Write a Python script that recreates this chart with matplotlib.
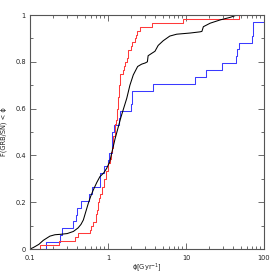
import numpy as np
import matplotlib
matplotlib.use("Agg")
import matplotlib.pyplot as plt
from matplotlib.ticker import LogLocator, NullFormatter, MultipleLocator

# Red sample (empirical CDF, 60 values, Gyr^-1)
red_samples = [0.134, 0.238, 0.374, 0.412, 0.58, 0.60, 0.64, 0.70, 0.712, 0.722,
               0.745, 0.755, 0.778, 0.789, 0.826, 0.84, 0.889, 0.90, 0.942, 0.95,
               0.99, 1.0, 1.06, 1.08, 1.10, 1.14, 1.15, 1.16, 1.17, 1.22,
               1.23, 1.24, 1.25, 1.30, 1.31, 1.32, 1.33, 1.34, 1.355, 1.38,
               1.39, 1.40, 1.41, 1.42, 1.43, 1.58, 1.62, 1.65, 1.75, 1.79,
               1.82, 1.95, 2.01, 2.22, 2.30, 2.33, 2.57, 3.70, 9.07, 47.8]

# Blue sample (empirical CDF, 34 values)
blue_samples = [0.160, 0.239, 0.257, 0.361, 0.39, 0.40, 0.457, 0.579, 0.624, 0.78,
                0.79, 0.902, 0.986, 1.045, 1.11, 1.12, 1.13, 1.205, 1.40, 1.43,
                2.0, 2.01, 2.02, 3.81, 13.0, 17.9, 29.2, 43.4, 44.6, 48.0,
                71.0, 71.5, 72.0, 150.0]

# Black model curve
black_x = [0.1, 0.11, 0.13, 0.148, 0.18, 0.209, 0.25, 0.30, 0.36, 0.413,
           0.45, 0.483, 0.52, 0.559, 0.60, 0.647, 0.72, 0.787, 0.88, 0.963,
           1.05, 1.23, 1.47, 1.74, 1.91, 2.11, 2.40, 2.7, 3.0, 3.2,
           3.27, 3.63, 4.0, 4.4, 5.1, 6.2, 7.6, 11.3, 15.1, 16.0,
           16.7, 20.4, 27.4, 36.9, 45.0]
black_y = [0.0, 0.006, 0.02, 0.037, 0.055, 0.061, 0.063, 0.066, 0.075, 0.09,
           0.105, 0.124, 0.16, 0.195, 0.225, 0.252, 0.285, 0.309, 0.325, 0.345,
           0.372, 0.47, 0.565, 0.644, 0.70, 0.744, 0.78, 0.79, 0.795, 0.80,
           0.826, 0.836, 0.845, 0.87, 0.89, 0.91, 0.918, 0.923, 0.928, 0.93,
           0.95, 0.965, 0.979, 0.99, 1.0]

x_ticks = [0.1, 1, 10, 100]
x_labels = ["0.1", "1", "10", "100"]
y_ticks = [0, 0.2, 0.4, 0.6, 0.8, 1.0]
y_labels = ["0", "0.2", "0.4", "0.6", "0.8", "1"]


def ecdf(samples, xmin=0.1):
    s = np.sort(np.asarray(samples, dtype=float))
    n = len(s)
    xs = np.concatenate([[xmin], s])
    ys = np.concatenate([[0.0], np.arange(1, n + 1) / n])
    return xs, ys


fig = plt.figure(figsize=(2.79, 2.79), dpi=100)
ax = fig.add_axes([0.1075, 0.1075, 0.8387, 0.8387])

rx, ry = ecdf(red_samples)
bx, by = ecdf(blue_samples)
ax.step(bx, by, where="post", color="#3a3aff", lw=0.75)
ax.step(rx, ry, where="post", color="#ff3a3a", lw=0.75)
ax.plot(black_x, black_y, color="black", lw=0.75)

ax.set_xscale("log")
ax.set_xlim(0.1, 100)
ax.set_ylim(0, 1)
ax.set_xticks(x_ticks)
ax.set_xticklabels(x_labels)
ax.xaxis.set_minor_locator(LogLocator(base=10, subs=np.arange(2, 10)))
ax.xaxis.set_minor_formatter(NullFormatter())
ax.set_yticks(y_ticks)
ax.set_yticklabels(y_labels)
ax.yaxis.set_minor_locator(MultipleLocator(0.1))

spine_col = "#555555"
for s in ax.spines.values():
    s.set_color(spine_col)
    s.set_linewidth(0.8)
ax.tick_params(which="both", direction="in", top=True, right=True,
               colors=spine_col, labelcolor="#222222", labelsize=4.8, width=0.6)
ax.tick_params(which="major", length=4)
ax.tick_params(which="minor", length=2.2)
ax.tick_params(axis="x", which="major", pad=4)
ax.tick_params(axis="y", which="major", pad=3)

ax.set_xlabel("\u03d5[Gyr$^{-1}$]", fontsize=4.8, color="#222222", labelpad=0.5)
ax.set_ylabel("F(GRB/SN) < \u03d5", fontsize=4.8, color="#222222", labelpad=6)

fig.savefig("out.png", dpi=100)
